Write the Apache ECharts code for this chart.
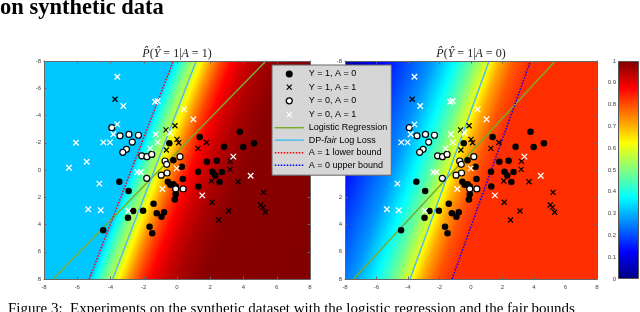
<!DOCTYPE html>
<html><head><meta charset="utf-8">
<script src="https://cdn.jsdelivr.net/npm/echarts@6/dist/echarts.min.js"></script>
<style>html,body{margin:0;padding:0;background:#fff}#c{width:640px;height:312px}</style>
</head><body><div id="c"></div>
<script>
// ---------- data ----------
const axisMin = -8, axisMax = 8, axisStep = 2;
const colorbarMin = 0, colorbarMax = 1, colorbarStep = 0.1;

// Y = 1, A = 0 (black filled circles)
const y1a0 = [[-0.46,-1.96],[1.37,-2.43],[3.78,-2.81],[4.63,-1.96],[3.98,-1.68],[2.83,-1.71],[1.80,-0.61],[2.39,-0.68],[0.29,-0.23],[-0.22,-0.72],[1.27,0.12],[2.13,0.12],[2.70,0.14],[2.30,0.40],[2.56,0.88],[0.35,0.66],[1.29,1.22],[-3.47,0.87],[-2.91,1.54],[-1.41,2.47],[-2.04,2.99],[-2.64,3.0],[-2.95,3.5],[-1.22,3.18],[-0.78,3.1],[-0.93,3.44],[-1.65,4.16],[-1.49,4.65],[-4.44,4.42],[-0.55,0.86],[-0.40,1.08],[-0.22,1.05],[-0.08,1.22],[-0.08,1.78],[-0.13,2.17]];
// Y = 1, A = 1 (black crosses)
const y1a1 = [[-3.73,-5.19],[-0.66,-2.94],[-0.12,-3.25],[0.0,-2.25],[0.1,-2.0],[-0.64,-1.47],[1.26,-1.59],[1.77,-2.02],[3.2,-0.63],[3.19,-0.05],[2.08,0.81],[3.68,0.86],[2.11,2.37],[3.11,3.01],[2.51,3.67],[5.21,1.64],[5.03,2.57],[5.17,2.74],[5.31,3.1]];
// Y = 0, A = 0 (white circles)
const y0a0 = [[-3.92,-3.11],[-3.43,-2.51],[-2.89,-2.61],[-2.32,-2.55],[-2.69,-2.05],[-3.04,-1.52],[-3.26,-1.3],[-2.12,-1.04],[-1.81,-0.98],[-1.52,-1.14],[0.18,-0.98],[-0.72,-0.66],[-0.62,-0.42],[-1.82,0.61],[-0.95,0.38],[-0.6,0.22],[-0.08,1.39],[0.37,1.39]];
// Y = 0, A = 1 (white crosses)
const y0a1 = [[-3.59,-6.85],[-3.23,-4.70],[-1.32,-5.01],[-1.16,-5.06],[0.42,-4.45],[0.98,-3.72],[-3.59,-3.35],[-3.83,-2.62],[-6.08,-2.0],[-4.43,-2.03],[-4.03,-2.03],[-5.43,-0.61],[-6.50,-0.17],[-1.28,-2.62],[-1.16,-2.03],[-1.62,-1.59],[-0.42,-2.74],[-0.02,-0.12],[-2.39,0.17],[-2.18,0.17],[3.39,-0.98],[4.43,0.42],[-4.67,1.0],[-5.34,2.88],[-4.59,2.96],[-2.93,2.99],[-0.88,1.39],[1.52,1.86]];

// decision lines (end points)
const logisticLine = [[-7.45,8],[5.35,-8]];
const dpFairLine = [[-3.87,8],[1.15,-8]];
const a1LowerLine = [[-5.28,8],[-0.22,-8]];
const a0UpperLine = [[-1.2,8],[3.78,-8]];

// probability field: value is constant along lines x + isoSlope*y = u
const isoSlope = 0.31;
const leftProfileU = [-12, -2.75, -2.4, -1.9, -1.4, -1.0, -0.4, 0.2, 0.8, 1.6, 2.6, 4.0, 12];
const leftProfileV = [0.32, 0.32, 0.39, 0.48, 0.56, 0.63, 0.73, 0.81, 0.87, 0.92, 0.96, 0.99, 1.0];
const rightProfileU = [-12, -10.5, -8.5, -6.5, -5.0, -3.6, -2.4, -1.5, -0.6, 0.3, 1.25, 12];
const rightProfileV = [0.0, 0.03, 0.11, 0.2, 0.27, 0.37, 0.48, 0.59, 0.71, 0.79, 0.83, 0.83];

const legendNames = ['Y = 1, A = 0','Y = 1, A = 1','Y = 0, A = 0','Y = 0, A = 1','Logistic Regression','DP-fair Log Loss','A = 1 lower bound','A = 0 upper bound'];

// ---------- helpers ----------
function jet(v){
  const c = t => Math.max(0, Math.min(1, t));
  const r = c(1.5 - Math.abs(4*v - 3)), g = c(1.5 - Math.abs(4*v - 2)), b = c(1.5 - Math.abs(4*v - 1));
  return 'rgb(' + Math.round(r*255) + ',' + Math.round(g*255) + ',' + Math.round(b*255) + ')';
}
function profile(u, U, V){
  if (u <= U[0]) return V[0];
  for (let i = 1; i < U.length; i++) {
    if (u <= U[i]) { const t = (u - U[i-1]) / (U[i] - U[i-1]); return V[i-1] + t*(V[i] - V[i-1]); }
  }
  return V[V.length-1];
}
function fieldRenderer(U, V){
  return function(params, api){
    const o = api.coord([0,0]), ex = api.coord([1,0]), ey = api.coord([0,1]);
    const sx = ex[0]-o[0], sy = ey[1]-o[1];
    const tl = api.coord([axisMin, axisMin]), br = api.coord([axisMax, axisMax]);
    const dx = -isoSlope*sx, dy = sy, L = Math.hypot(dx, dy);
    const nx = dy/L, ny = -dx/L;
    const rate = nx/sx + isoSlope*ny/sy;
    const u0 = U[0], u1 = U[U.length-1];
    const A = api.coord([u0, 0]);
    const s = (u1-u0)/rate;
    const B = [A[0]+nx*s, A[1]+ny*s];
    const stops = [], N = 240;
    for (let i = 0; i <= N; i++) { const u = u0 + (u1-u0)*i/N; stops.push({offset: i/N, color: jet(profile(u, U, V))}); }
    return {type:'rect', silent:true,
      shape:{x:Math.min(tl[0],br[0]), y:Math.min(tl[1],br[1]), width:Math.abs(br[0]-tl[0]), height:Math.abs(br[1]-tl[1])},
      style:{fill: new echarts.graphic.LinearGradient(A[0],A[1],B[0],B[1],stops,true)}};
  };
}
const SANS = 'Liberation Sans, Arial, sans-serif';
const SERIF = 'Liberation Serif, Times New Roman, serif';
const X_PATH = 'path://M0,0L10,10M10,0L0,10';

function xAx(gi, pos, labels){
  return {type:'value', gridIndex:gi, position:pos, min:axisMin, max:axisMax, interval:axisStep, z:10,
    axisLine:{show:true, onZero:false, lineStyle:{color:'#666', width:1}},
    axisTick:{show:true, inside:true, length:2.5, lineStyle:{color:'#666'}},
    axisLabel:{show:labels, fontSize:6, color:'#444', margin:5, fontFamily:SANS},
    splitLine:{show:false}};
}
function yAx(gi, pos, labels){
  const a = xAx(gi, pos, labels); a.inverse = true; a.axisLabel.margin = 3; return a;
}
function lineS(name, data, gi, color, type, width){
  return {type:'line', name, data, xAxisIndex:gi, yAxisIndex:gi, symbol:'none', showSymbol:false,
    lineStyle:{color, type, width}, itemStyle:{color}, z:4, silent:true, clip:true, animation:false};
}
function scat(name, data, gi, symbol, size, fill, stroke, bw){
  return {type:'scatter', name, data, xAxisIndex:gi, yAxisIndex:gi, symbol, symbolSize:size,
    itemStyle:{color:fill, borderColor:stroke, borderWidth:bw, opacity:1}, z:5, silent:true, animation:false};
}
function pointSeries(gi){
  return [
    scat(legendNames[0], y1a0, gi, 'circle', 6.5, '#000', '#000', 0),
    scat(legendNames[1], y1a1, gi, X_PATH, 5, 'rgba(0,0,0,0)', '#000', 1.2),
    scat(legendNames[2], y0a0, gi, 'circle', 6, '#fff', '#000', 1.2),
    scat(legendNames[3], y0a1, gi, X_PATH, 5.5, 'rgba(0,0,0,0)', '#fff', 1.3)
  ];
}
const cbStops = [];
for (let i = 0; i <= 64; i++) cbStops.push({offset:i/64, color: jet(i/64)});

const hiddenSymbol = {color:'rgba(0,0,0,0)', borderColor:'rgba(0,0,0,0)', borderWidth:0, opacity:0};
const titleRich = {i:{fontFamily:SERIF, fontStyle:'italic', fontSize:12, fill:'#222'}};

const chart = echarts.init(document.getElementById('c'), null, {renderer:'canvas'});
const option = {
  animation:false,
  backgroundColor:'#fff',
  grid:[
    {left:44, top:61, width:266, height:218},
    {left:345, top:61, width:252, height:218},
    {left:618, top:61, width:21, height:218}
  ],
  xAxis:[
    xAx(0,'bottom',true), xAx(1,'bottom',true), xAx(0,'top',false), xAx(1,'top',false),
    {type:'category', gridIndex:2, data:['cb'], show:false}
  ],
  yAxis:[
    yAx(0,'left',true), yAx(1,'left',true), yAx(0,'right',false), yAx(1,'right',false),
    {type:'value', gridIndex:2, position:'left', min:colorbarMin, max:colorbarMax, interval:colorbarStep, z:10,
      axisLine:{show:false}, axisTick:{show:false},
      axisLabel:{fontSize:6, color:'#444', margin:2, fontFamily:SANS}, splitLine:{show:false}}
  ],
  legend:{
    z:30, zlevel:0,
    orient:'vertical', left:272, top:65, padding:[4,4,5,2],
    itemWidth:29, itemHeight:10, itemGap:2.5, selectedMode:false,
    backgroundColor:'#d6d6d6', borderColor:'#666', borderWidth:1,
    textStyle:{fontFamily:SANS, fontSize:9, color:'#000', lineHeight:10,
      rich:{i:{fontFamily:SANS, fontSize:9, color:'#000', fontStyle:'italic', lineHeight:10}}},
    formatter: n => n === 'DP-fair Log Loss' ? 'DP-{i|fair} Log Loss' : n,
    data:[
      {name:legendNames[0], icon:'path://M-5,-5M5,5M-3.5,0A3.5,3.5,0,1,1,3.5,0A3.5,3.5,0,1,1,-3.5,0Z', itemStyle:{borderWidth:0}},
      {name:legendNames[1], icon:'path://M-5,-5M15,15M0,0L10,10M10,0L0,10', itemStyle:{borderWidth:1.2}},
      {name:legendNames[2], icon:'path://M-5,-5M5,5M-3,0A3,3,0,1,1,3,0A3,3,0,1,1,-3,0Z', itemStyle:{borderWidth:1.3}},
      {name:legendNames[3], icon:'path://M-5,-5M15,15M0,0L10,10M10,0L0,10', itemStyle:{borderWidth:1.2}},
      {name:legendNames[4], lineStyle:{width:1.5}, itemStyle:hiddenSymbol},
      {name:legendNames[5], lineStyle:{width:1.5}, itemStyle:hiddenSymbol},
      {name:legendNames[6], lineStyle:{width:1.5}, itemStyle:hiddenSymbol},
      {name:legendNames[7], lineStyle:{width:1.5}, itemStyle:hiddenSymbol}
    ]
  },
  graphic:[
    {type:'text', x:0, y:8, style:{text:'on synthetic data', fontFamily:SERIF, fontWeight:'bold', fontSize:22.5, fill:'#000', align:'left', verticalAlign:'middle'}},
    {type:'text', x:177, y:54, style:{text:'{i|P\u0302}({i|Ŷ} = 1|{i|A} = 1)', fontFamily:SERIF, fontSize:12, fill:'#222', align:'center', verticalAlign:'middle', rich:titleRich}},
    {type:'text', x:471, y:54, style:{text:'{i|P\u0302}({i|Ŷ} = 1|{i|A} = 0)', fontFamily:SERIF, fontSize:12, fill:'#222', align:'center', verticalAlign:'middle', rich:titleRich}},
    {type:'text', x:8, y:309, style:{text:'Figure 3:  Experiments on the synthetic dataset with the logistic regression and the fair bounds', fontFamily:SERIF, fontSize:15, fill:'#000', align:'left', verticalAlign:'middle'}}
  ],
  series:[
    {type:'custom', xAxisIndex:0, yAxisIndex:0, data:[[0,0]], renderItem:fieldRenderer(leftProfileU, leftProfileV), z:1, silent:true, clip:true},
    {type:'custom', xAxisIndex:1, yAxisIndex:1, data:[[0,0]], renderItem:fieldRenderer(rightProfileU, rightProfileV), z:1, silent:true, clip:true},
    lineS(legendNames[4], logisticLine, 0, '#77ac30', 'solid', 1.5),
    lineS(legendNames[5], dpFairLine, 0, '#4dbeee', 'solid', 1.5),
    lineS(legendNames[6], a1LowerLine, 0, '#ff0000', 'dotted', 1.5),
    lineS(legendNames[4], logisticLine, 1, '#77ac30', 'solid', 1.5),
    lineS(legendNames[5], dpFairLine, 1, '#4dbeee', 'solid', 1.5),
    lineS(legendNames[7], a0UpperLine, 1, '#0000ff', 'dotted', 1.5),
    ...pointSeries(0),
    ...pointSeries(1),
    {type:'bar', xAxisIndex:4, yAxisIndex:4, data:[colorbarMax], barWidth:'100%', silent:true,
      itemStyle:{color:new echarts.graphic.LinearGradient(0,1,0,0,cbStops), borderColor:'#555', borderWidth:1}}
  ]
};
chart.setOption(option);
</script></body></html>
